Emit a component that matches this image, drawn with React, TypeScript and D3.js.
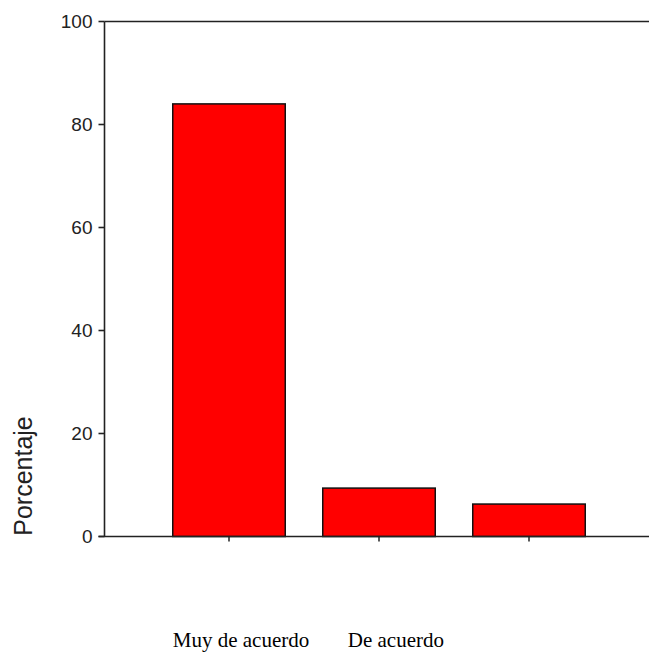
import React from "react";
import * as d3 from "d3";

const categories = ["Muy de acuerdo", "De acuerdo", "Otro"];
const percentages = [84.0, 9.4, 6.3];
const yTicks = [0, 20, 40, 60, 80, 100];
const bottomLabels = ["Muy de acuerdo", "De acuerdo"];
const yTitle = "Porcentaje";

const W = 649;
const H = 653;

export default function App() {
  const axisX = 104.5;
  const y = d3.scaleLinear().domain([0, 100]).range([536.5, 21.5]);
  const x = d3
    .scaleBand<string>()
    .domain(categories)
    .range([154, 604])
    .paddingInner(0.25)
    .paddingOuter(0.125);

  const lineColor = "#222";
  const sans = "'Liberation Sans', Arial, sans-serif";
  const serif = "'Liberation Serif', 'Times New Roman', serif";

  return (
    <svg
      width={W}
      height={H}
      style={{ position: "absolute", left: 0, top: 0, background: "#fff" }}
    >
      <rect x={0} y={0} width={W} height={H} fill="#fff" />
      {categories.map((c, i) => (
        <rect
          key={c}
          x={x(c)!}
          y={y(percentages[i])}
          width={x.bandwidth()}
          height={y(0) - y(percentages[i])}
          fill="#ff0000"
          stroke="#111"
          strokeWidth={1.5}
        />
      ))}
      <line x1={axisX} x2={W} y1={y(100)} y2={y(100)} stroke={lineColor} strokeWidth={1.6} />
      <line x1={axisX - 6} x2={W} y1={y(0)} y2={y(0)} stroke={lineColor} strokeWidth={1.6} />
      <line x1={axisX} x2={axisX} y1={y(100)} y2={y(0)} stroke={lineColor} strokeWidth={1.6} />
      {yTicks.map((t) => (
        <g key={t}>
          <line x1={axisX - 6} x2={axisX} y1={y(t)} y2={y(t)} stroke={lineColor} strokeWidth={1.6} />
          <text
            x={axisX - 12}
            y={y(t)}
            dy="0.36em"
            textAnchor="end"
            fontFamily={sans}
            fontSize={19}
            fill="#222"
          >
            {t}
          </text>
        </g>
      ))}
      {categories.map((c) => (
        <line
          key={c + "t"}
          x1={x(c)! + x.bandwidth() / 2}
          x2={x(c)! + x.bandwidth() / 2}
          y1={y(0)}
          y2={y(0) + 5}
          stroke={lineColor}
          strokeWidth={1.5}
        />
      ))}
      <text
        transform={`translate(32,476) rotate(-90)`}
        textAnchor="middle"
        fontFamily={sans}
        fontSize={25}
        fill="#222"
      >
        {yTitle}
      </text>
      <text x={x(categories[0])!} y={647} fontFamily={serif} fontSize={21} fill="#000">
        {bottomLabels[0]}
      </text>
      <text x={x(categories[0])! + 175} y={647} fontFamily={serif} fontSize={21} fill="#000">
        {bottomLabels[1]}
      </text>
    </svg>
  );
}
